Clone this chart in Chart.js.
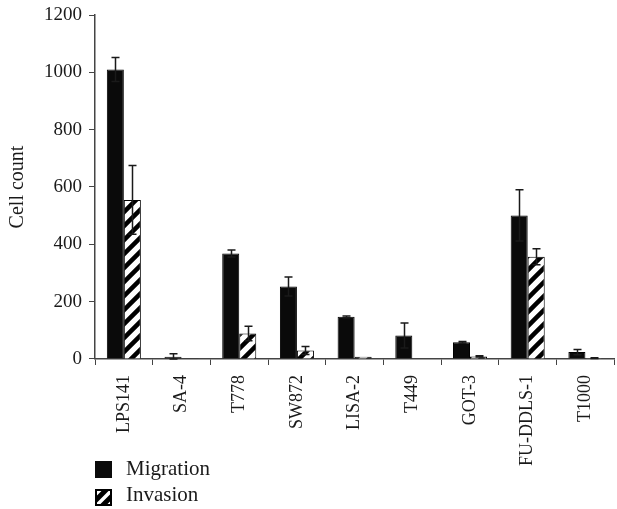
<!DOCTYPE html>
<html>
<head>
<meta charset="utf-8">
<script src="https://cdn.jsdelivr.net/npm/chart.js@4.4.1/dist/chart.umd.min.js"></script>
<style>
  html, body { margin: 0; padding: 0; background: #fff; }
  #wrap { position: relative; width: 617px; height: 509px; }
  #wrap canvas#chart { position: absolute; left: 0; top: 0; }
  .swatch { position: absolute; left: 95px; width: 17px; height: 17px; }
  .legtext { position: absolute; left: 126px; font: 21px/21px "Liberation Serif", serif; color: #1a1a1a; white-space: nowrap; }
</style>
</head>
<body>
<div id="wrap">
  <canvas id="chart" width="617" height="509"></canvas>
  <canvas class="swatch" id="swMig" width="17" height="17" style="top:461px"></canvas>
  <div class="legtext" style="top:458px">Migration</div>
  <canvas class="swatch" id="swInv" width="17" height="17" style="top:489px"></canvas>
  <div class="legtext" style="top:484px">Invasion</div>
</div>
<script>
// Dane wykresu
const cellLines = ['LPS141', 'SA-4', 'T778', 'SW872', 'LISA-2', 'T449', 'GOT-3', 'FU-DDLS-1', 'T1000'];
const migration = [1010, 8, 368, 253, 147, 82, 58, 501, 24];
const migrationErr = [42, 10, 12, 33, 3, 44, 3, 89, 9];
const invasion = [555, 1, 89, 30, 8, 2, 9, 357, 3];
const invasionErr = [120, 0, 25, 14, 0, 0, 2, 28, 1];
const yTicks = [0, 200, 400, 600, 800, 1000, 1200];

const ink = '#1a1a1a';
const axisColor = '#444';
const serif = '"Liberation Serif", "Times New Roman", serif';

// Wzór ukośnych pasków dla "Invasion"
function makeHatch(size, lw) {
    const c = document.createElement('canvas');
    c.width = size;
    c.height = size;
    const g = c.getContext('2d');
    g.fillStyle = '#fff';
    g.fillRect(0, 0, size, size);
    g.strokeStyle = '#000';
    g.lineWidth = lw;
    g.beginPath();
    g.moveTo(-size / 2, size / 2); g.lineTo(size / 2, -size / 2);
    g.moveTo(0, size); g.lineTo(size, 0);
    g.moveTo(size / 2, size * 1.5); g.lineTo(size * 1.5, size / 2);
    g.stroke();
    return g.createPattern(c, 'repeat');
}
const hatch = makeHatch(14, 4.5);

// Słupki błędów rysowane przez skalę y
const errorBars = {
    id: 'errorBars',
    afterDatasetsDraw(chart) {
        const ctx = chart.ctx;
        const y = chart.scales.y;
        ctx.save();
        ctx.strokeStyle = ink;
        ctx.lineWidth = 1.5;
        chart.data.datasets.forEach((ds, i) => {
            const meta = chart.getDatasetMeta(i);
            meta.data.forEach((bar, j) => {
                const e = ds.errors[j];
                if (!e) return;
                const v = ds.data[j];
                const top = y.getPixelForValue(v + e);
                const bot = y.getPixelForValue(Math.max(v - e, 0));
                const x = Math.round(bar.x) + 0.5;
                ctx.beginPath();
                ctx.moveTo(x, bot);
                ctx.lineTo(x, top);
                ctx.moveTo(x - 4, top);
                ctx.lineTo(x + 4, top);
                ctx.moveTo(x - 4, bot);
                ctx.lineTo(x + 4, bot);
                ctx.stroke();
            });
        });
        ctx.restore();
    }
};

new Chart(document.getElementById('chart').getContext('2d'), {
    type: 'bar',
    data: {
        labels: cellLines,
        datasets: [{
            label: 'Migration',
            data: migration,
            errors: migrationErr,
            backgroundColor: '#0a0a0a',
            borderColor: '#000',
            borderWidth: 1
        }, {
            label: 'Invasion',
            data: invasion,
            errors: invasionErr,
            backgroundColor: hatch,
            borderColor: '#000',
            borderWidth: 1
        }]
    },
    options: {
        responsive: false,
        animation: false,
        layout: { padding: { left: 6, right: 0, top: 15, bottom: 33 } },
        datasets: {
            bar: { categoryPercentage: 0.59, barPercentage: 1.0 }
        },
        scales: {
            x: {
                offset: true,
                grid: { display: true, drawOnChartArea: false, drawTicks: true, tickLength: 6, color: axisColor, offset: true },
                border: { display: true, color: axisColor, width: 1.5 },
                ticks: { minRotation: 90, maxRotation: 90, autoSkip: false, padding: 10, color: ink, font: { family: serif, size: 18 } }
            },
            y: {
                min: 0,
                max: 1200,
                afterBuildTicks: function(scale) {
                    scale.ticks = yTicks.map(v => ({ value: v }));
                },
                afterFit: function(scale) {
                    scale.paddingTop = 0; // górna krawędź z layout.padding
                },
                grid: { display: true, drawOnChartArea: false, drawTicks: true, tickLength: 6, color: axisColor },
                border: { display: true, color: axisColor, width: 1.5 },
                ticks: {
                    padding: 7,
                    color: ink,
                    font: { family: serif, size: 19 },
                    callback: function(value) { return String(value); }
                },
                title: { display: true, text: 'Cell count', color: ink, font: { family: serif, size: 20 }, padding: { top: 0, bottom: 7 } }
            }
        },
        plugins: {
            legend: { display: false },
            tooltip: { enabled: false }
        }
    },
    plugins: [errorBars]
});

// Próbki legendy
const gm = document.getElementById('swMig').getContext('2d');
gm.fillStyle = '#0a0a0a';
gm.fillRect(0, 0, 17, 17);
const gi = document.getElementById('swInv').getContext('2d');
gi.fillStyle = makeHatch(12, 5);
gi.fillRect(0, 0, 17, 17);
gi.strokeStyle = '#000';
gi.lineWidth = 2;
gi.strokeRect(1, 1, 15, 15);
</script>
</body>
</html>
